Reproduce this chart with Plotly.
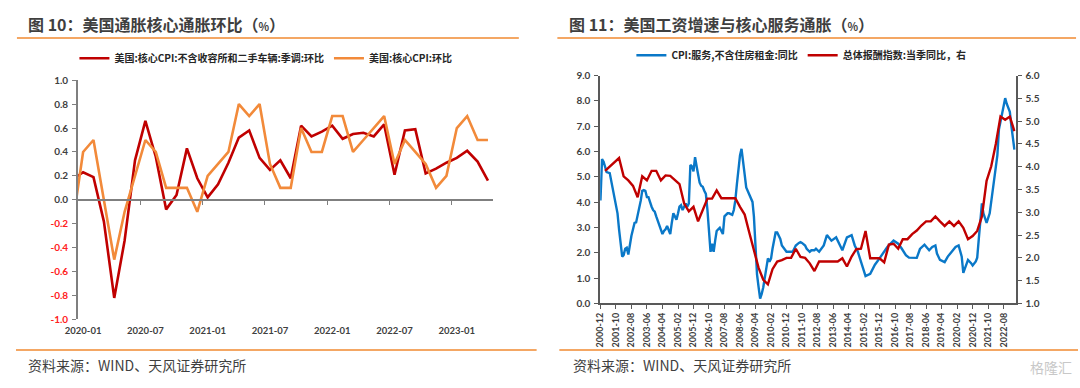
import plotly.graph_objects as go

W, H = 1080, 388

# ---------------- Left chart data (monthly) ----------------
left_months = [
    "2019-12",
    "2020-01", "2020-02", "2020-03", "2020-04", "2020-05", "2020-06",
    "2020-07", "2020-08", "2020-09", "2020-10", "2020-11", "2020-12",
    "2021-01", "2021-02", "2021-03", "2021-04", "2021-05", "2021-06",
    "2021-07", "2021-08", "2021-09", "2021-10", "2021-11", "2021-12",
    "2022-01", "2022-02", "2022-03", "2022-04", "2022-05", "2022-06",
    "2022-07", "2022-08", "2022-09", "2022-10", "2022-11", "2022-12",
    "2023-01", "2023-02", "2023-03", "2023-04",
]
core_ex_shelter_cars = [
    0.17,
    0.23, 0.19, -0.18, -0.82, -0.34, 0.33, 0.66, 0.36, -0.08, 0.04, 0.43, 0.18,
    0.02, 0.13, 0.31, 0.52, 0.58, 0.35, 0.25, 0.33, 0.18, 0.62, 0.53, 0.57,
    0.62, 0.51, 0.55, 0.56, 0.53, 0.63, 0.21, 0.58, 0.59, 0.22, 0.26, 0.31,
    0.35, 0.41, 0.32, 0.16,
]
core_cpi_mom = [
    -0.2,
    0.4, 0.5, 0.0, -0.5, -0.1, 0.2, 0.5, 0.4, 0.1, 0.1, 0.1, -0.1,
    0.2, 0.3, 0.4, 0.8, 0.7, 0.8, 0.3, 0.1, 0.1, 0.6, 0.4, 0.4,
    0.7, 0.7, 0.4, 0.5, 0.6, 0.7, 0.3, 0.5, 0.4, 0.3, 0.1, 0.2,
    0.6, 0.7, 0.5, 0.5,
]
left_xtick_labels = ["2020-01", "2020-07", "2021-01", "2021-07", "2022-01", "2022-07", "2023-01"]
left_yticks = [1.0, 0.8, 0.6, 0.4, 0.2, 0.0, -0.2, -0.4, -0.6, -0.8, -1.0]

# ---------------- Right chart data ----------------
svc_dates = [
    "2000-12", "2001-01", "2001-02", "2001-03", "2001-04", "2001-06", "2001-07", "2001-08",
    "2001-09", "2001-10", "2001-11", "2001-12", "2002-01", "2002-02", "2002-03", "2002-04",
    "2002-05", "2002-06", "2002-08", "2002-09", "2002-10", "2002-11", "2002-12", "2003-01",
    "2003-02", "2003-03", "2003-04", "2003-05", "2003-06", "2003-07", "2003-08", "2003-09",
    "2003-10", "2003-11", "2003-12", "2004-02", "2004-03", "2004-04", "2004-05", "2004-06",
    "2004-07", "2004-08", "2004-09", "2004-10", "2004-11", "2004-12", "2005-01", "2005-02",
    "2005-03", "2005-04", "2005-05", "2005-06", "2005-07", "2005-08", "2005-09", "2005-10",
    "2005-11", "2005-12", "2006-01", "2006-02", "2006-03", "2006-04", "2006-05", "2006-06",
    "2006-07", "2006-08", "2006-09", "2006-10", "2006-11", "2006-12", "2007-01", "2007-02",
    "2007-03", "2007-04", "2007-05", "2007-06", "2007-07", "2007-08", "2007-09", "2007-10",
    "2007-11", "2008-01", "2008-02", "2008-03", "2008-04", "2008-05", "2008-06", "2008-07",
    "2008-08", "2008-09", "2008-10", "2008-11", "2008-12", "2009-02", "2009-03", "2009-04",
    "2009-05", "2009-06", "2009-07", "2009-08", "2009-09", "2009-10", "2009-11", "2009-12",
    "2010-01", "2010-02", "2010-03", "2010-04", "2010-05", "2010-06", "2010-07", "2010-08",
    "2010-09", "2010-10", "2010-11", "2010-12", "2011-02", "2011-04", "2011-05", "2011-06",
    "2011-08", "2011-09", "2011-10", "2011-12", "2012-01", "2012-03", "2012-04", "2012-06",
    "2012-07", "2012-09", "2012-12", "2013-02", "2013-05", "2013-08", "2013-12", "2014-03",
    "2014-06", "2014-08", "2014-10", "2015-03", "2015-06", "2015-09", "2015-12", "2016-02",
    "2016-05", "2016-09", "2016-12", "2017-02", "2017-05", "2017-07", "2017-10", "2017-12",
    "2018-02", "2018-05", "2018-08", "2018-10", "2018-12", "2019-01", "2019-03", "2019-06",
    "2019-08", "2019-11", "2020-01", "2020-03", "2020-05", "2020-06", "2020-08", "2020-09",
    "2020-11", "2020-12", "2021-02", "2021-03", "2021-04", "2021-06", "2021-07", "2021-09",
    "2021-11", "2021-12", "2022-02", "2022-04", "2022-05", "2022-07", "2022-09", "2022-10",
    "2022-12", "2023-01", "2023-03",
]
svc_vals = [
    4.07, 5.70, 5.60, 5.41, 5.19, 5.15, 4.84, 4.58,
    4.33, 3.95, 3.56, 2.93, 2.23, 1.85, 1.91, 2.16,
    2.20, 1.93, 2.67, 2.93, 3.18, 3.20, 3.50, 3.69,
    4.07, 4.45, 4.48, 4.45, 4.20, 4.20, 3.95, 3.82,
    3.69, 3.63, 3.44, 3.06, 2.93, 2.74, 2.86, 2.93,
    3.06, 2.93, 2.74, 3.18, 3.56, 3.44, 3.31, 3.56,
    3.82, 3.88, 3.69, 3.82, 3.95, 3.82, 3.95, 5.47,
    5.41, 5.22, 5.78, 5.41, 5.09, 4.77, 4.65, 4.61,
    4.45, 4.33, 3.69, 2.80, 2.04, 2.36, 2.04, 2.50,
    2.86, 2.93, 2.99, 2.86, 2.74, 3.44, 3.50, 3.56,
    3.56, 3.50, 3.69, 4.07, 4.71, 5.22, 5.85, 6.11,
    5.47, 5.09, 4.58, 4.45, 4.26, 4.01, 3.44, 2.16,
    1.15, 0.64, 0.19, 0.38, 0.64, 1.02, 1.40, 1.78,
    1.65, 1.78, 2.16, 2.55, 2.80, 2.80, 2.67, 2.55,
    2.29, 2.19, 2.10, 2.04, 2.04, 2.04, 2.16, 2.29,
    2.39, 2.42, 2.39, 2.29, 2.16, 2.04, 2.10, 2.10,
    2.16, 2.04, 2.29, 2.70, 2.48, 2.61, 2.10, 2.61,
    2.70, 2.29, 2.04, 1.08, 1.17, 1.53, 1.78, 1.97,
    2.23, 2.48, 2.36, 2.19, 1.91, 1.81, 1.80, 1.80,
    2.15, 2.32, 2.10, 2.23, 2.29, 1.97, 1.72, 1.63,
    1.85, 2.10, 2.23, 2.29, 1.85, 1.21, 1.53, 1.72,
    1.59, 1.50, 1.66, 1.81, 2.55, 3.95, 3.56, 3.18,
    3.56, 4.01, 4.84, 5.86, 6.87, 7.51, 8.11, 7.89,
    7.57, 7.00, 6.08,
]
eci_dates = [
    "2001-03", "2001-12", "2002-03", "2002-06", "2002-09", "2002-12",
    "2003-03", "2003-06", "2003-09", "2003-12", "2004-03", "2004-06", "2004-09", "2004-12",
    "2005-03", "2005-06", "2005-09", "2005-12", "2006-03", "2006-06", "2006-09", "2006-12",
    "2007-03", "2007-06", "2007-09", "2007-12", "2008-03", "2008-06", "2008-09", "2008-12",
    "2009-03", "2009-06", "2009-09", "2009-12", "2010-03", "2010-06", "2010-09", "2010-12",
    "2011-03", "2011-06", "2011-09", "2011-12", "2012-03", "2012-06", "2012-09", "2012-12",
    "2013-03", "2013-06", "2013-09", "2013-12", "2014-03", "2014-06", "2014-09", "2014-12",
    "2015-03", "2015-06", "2015-09", "2015-12", "2016-03", "2016-06", "2016-09", "2016-12",
    "2017-03", "2017-06", "2017-09", "2017-12", "2018-03", "2018-06", "2018-09", "2018-12",
    "2019-03", "2019-06", "2019-09", "2019-12", "2020-03", "2020-06", "2020-09", "2020-12",
    "2021-03", "2021-06", "2021-09", "2021-12", "2022-03", "2022-06", "2022-09", "2022-12",
    "2023-03",
]
eci_vals = [
    3.91, 4.19, 3.79, 3.70, 3.58, 3.33,
    3.79, 3.70, 3.91, 3.91, 3.70, 3.81, 3.80, 3.72,
    3.62, 3.19, 3.02, 3.12, 2.80, 3.05, 3.30, 3.30,
    3.48, 3.31, 3.31, 3.31, 3.31, 3.12, 2.95, 2.55,
    2.15, 1.78, 1.52, 1.42, 1.75, 1.92, 1.95, 2.00,
    2.00, 2.20, 2.02, 2.00, 1.88, 1.71, 1.92, 1.92,
    1.92, 1.92, 1.92, 1.99, 1.81, 2.03, 2.19, 2.20,
    2.59, 1.99, 1.99, 1.99, 1.90, 2.29, 2.31, 2.20,
    2.41, 2.41, 2.52, 2.60, 2.71, 2.80, 2.80, 2.91,
    2.80, 2.70, 2.80, 2.70, 2.80, 2.66, 2.41, 2.48,
    2.59, 2.91, 3.69, 4.01, 4.50, 5.10, 5.03, 5.10,
    4.78,
]
right_xtick_labels = [
    "2000-12", "2001-10", "2002-08", "2003-06", "2004-04", "2005-02", "2005-12",
    "2006-10", "2007-08", "2008-06", "2009-04", "2010-02", "2010-12", "2011-10",
    "2012-08", "2013-06", "2014-04", "2015-02", "2015-12", "2016-10", "2017-08",
    "2018-06", "2019-04", "2020-02", "2020-12", "2021-10", "2022-08",
]

# ---------------- Styles ----------------
RED = "#C00000"
ORANGE = "#F28A3A"
BLUE = "#0A78C8"
AX = "#7F7F7F"
AX2 = "#595959"
TXT = "#404040"
NUMFONT = "Lato"
CJK = "Noto Sans CJK SC"
RULE = "#F08A30"


def px_x(p):
    return p / W


def px_y(p):
    return (H - p) / H


fig = go.Figure()

fig.add_trace(go.Scatter(
    x=left_months, y=core_ex_shelter_cars, mode="lines",
    line=dict(color=RED, width=2.6), name="美国:核心CPI:不含收容所和二手车辆:季调:环比",
    xaxis="x", yaxis="y", legend="legend", hoverinfo="skip"))
fig.add_trace(go.Scatter(
    x=left_months, y=core_cpi_mom, mode="lines",
    line=dict(color=ORANGE, width=2.6), name="美国:核心CPI:环比",
    xaxis="x", yaxis="y", legend="legend", hoverinfo="skip"))
# invisible helper so the zero-line tick axis (x3) gets drawn
fig.add_trace(go.Scatter(
    x=list(range(len(left_months))), y=core_cpi_mom, mode="lines",
    line=dict(color="rgba(0,0,0,0)", width=0), opacity=0, showlegend=False,
    xaxis="x3", yaxis="y", hoverinfo="skip"))

fig.add_trace(go.Scatter(
    x=svc_dates, y=svc_vals, mode="lines",
    line=dict(color=BLUE, width=2.4), name="CPI:服务,不含住房租金:同比",
    xaxis="x2", yaxis="y2", legend="legend2", hoverinfo="skip"))
fig.add_trace(go.Scatter(
    x=eci_dates, y=eci_vals, mode="lines",
    line=dict(color=RED, width=2.4), name="总体报酬指数:当季同比，右",
    xaxis="x2", yaxis="y3", legend="legend2", hoverinfo="skip"))

# left plot geometry
L_x0, L_x1 = 65.7, 486.0
L_ytop, L_ybot = 75.7, 323.3
L_dom_x = [px_x(L_x0), px_x(L_x1)]
L_dom_y = [px_y(L_ybot), px_y(L_ytop)]
# right plot geometry
R_x0, R_x1 = 594.3, 1015.0
R_ytop, R_ybot = 71.0, 306.7
R_dom_x = [px_x(R_x0), px_x(R_x1)]
R_dom_y = [px_y(R_ybot), px_y(R_ytop)]

numfont_b = dict(family=NUMFONT, size=10, color=TXT, weight="bold")

left_yticktext = []
for v in left_yticks:
    s = f"{v:.1f}"
    if v < 0:
        s = f'<span style="color:#FF2020">{s}</span>'
    left_yticktext.append(s)

fig.update_layout(
    width=W, height=H, autosize=False,
    margin=dict(l=0, r=0, t=0, b=0),
    paper_bgcolor="white", plot_bgcolor="white",
    showlegend=True,
    xaxis=dict(
        type="category", categoryorder="array", categoryarray=left_months,
        domain=L_dom_x, anchor="y", range=[0.5, len(left_months) - 0.5],
        tickmode="array", tickvals=left_xtick_labels, ticktext=left_xtick_labels,
        ticks="", showline=False, showgrid=False, zeroline=False,
        tickfont=dict(family=NUMFONT, size=9.5, color=TXT, weight="bold"),
        ticklabelstandoff=4,
    ),
    xaxis3=dict(
        type="linear", overlaying="x", anchor="free",
        position=(L_dom_y[0] + L_dom_y[1]) / 2, domain=L_dom_x,
        range=[0.5, len(left_months) - 0.5], tickmode="linear", tick0=0.5, dtick=6,
        ticks="outside", ticklen=4, tickwidth=1.2, tickcolor=AX,
        showline=True, linecolor=AX, linewidth=1.5,
        showticklabels=False, showgrid=False, zeroline=False,
    ),
    yaxis=dict(
        domain=L_dom_y, anchor="x", range=[-1.0, 1.0],
        tickmode="array", tickvals=left_yticks, ticktext=left_yticktext,
        ticks="outside", ticklen=4, tickwidth=1.2, tickcolor=AX,
        showline=True, linecolor=AX, linewidth=1.5,
        showgrid=False, zeroline=False, tickfont=numfont_b,
        ticklabelstandoff=2,
    ),
    xaxis2=dict(
        type="date", domain=R_dom_x, anchor="y2",
        range=["2000-11-25", "2023-03-28"],
        tickmode="array", tickvals=right_xtick_labels, ticktext=right_xtick_labels,
        tickangle=-90, ticks="outside", ticklen=4, tickwidth=1.2, tickcolor=AX2,
        showline=True, linecolor=AX2, linewidth=1.5, showgrid=False, zeroline=False,
        tickfont=dict(family=NUMFONT, size=9, color=TXT, weight="bold"),
    ),
    yaxis2=dict(
        domain=R_dom_y, anchor="x2", range=[0, 9], tickmode="linear", tick0=0, dtick=1,
        tickformat=".1f", ticks="outside", ticklen=4, tickwidth=1.2, tickcolor=AX2,
        showline=True, linecolor=AX2, linewidth=1.5, showgrid=False, zeroline=False,
        tickfont=numfont_b, ticklabelstandoff=2,
    ),
    yaxis3=dict(
        overlaying="y2", side="right", anchor="x2", range=[1, 6],
        tickmode="linear", tick0=1, dtick=0.5, tickformat=".1f",
        ticks="outside", ticklen=4, tickwidth=1.2, tickcolor=AX2,
        showline=True, linecolor=AX2, linewidth=1.5, showgrid=False, zeroline=False,
        tickfont=numfont_b, ticklabelstandoff=2,
    ),
    legend=dict(
        orientation="h", x=px_x(256), y=px_y(53), xanchor="center", yanchor="middle",
        font=dict(family=CJK, size=10, color="#262626", weight="bold"),
        bgcolor="rgba(0,0,0,0)", itemwidth=30,
    ),
    legend2=dict(
        orientation="h", x=px_x(798), y=px_y(50), xanchor="center", yanchor="middle",
        font=dict(family=CJK, size=10, color="#262626", weight="bold"),
        bgcolor="rgba(0,0,0,0)", itemwidth=30,
    ),
)

title_font = dict(family=CJK, size=16, color="#3F3F3F", weight="bold")
src_font = dict(family=CJK, size=14, color="#3F3F3F")
fig.add_annotation(
    text='图 10：美国通胀核心通胀环比（<span style="font-size:11px">%</span>）',
    x=px_x(13), y=px_y(18), xref="paper", yref="paper", xanchor="left", yanchor="middle",
    showarrow=False, font=title_font)
fig.add_annotation(
    text='图 11：美国工资增速与核心服务通胀（<span style="font-size:11px">%</span>）',
    x=px_x(561), y=px_y(18), xref="paper", yref="paper", xanchor="left", yanchor="middle",
    showarrow=False, font=title_font)
fig.add_annotation(
    text="资料来源：WIND、天风证券研究所",
    x=px_x(13), y=px_y(370), xref="paper", yref="paper", xanchor="left", yanchor="middle",
    showarrow=False, font=src_font)
fig.add_annotation(
    text="资料来源：WIND、天风证券研究所",
    x=px_x(565), y=px_y(370), xref="paper", yref="paper", xanchor="left", yanchor="middle",
    showarrow=False, font=src_font)
fig.add_annotation(
    text="格隆汇",
    x=px_x(1074), y=px_y(372), xref="paper", yref="paper", xanchor="right", yanchor="middle",
    showarrow=False, font=dict(family=CJK, size=14, color="#C8C8C8"))

for (x0, x1, yy) in [(4, 512, 32), (551, 1076, 32), (3, 530, 355), (553, 1078, 355)]:
    fig.add_shape(type="line", xref="paper", yref="paper",
                  x0=px_x(x0), x1=px_x(x1), y0=px_y(yy), y1=px_y(yy),
                  line=dict(color=RULE, width=1.5))

fig.write_html(
    "out.html",
    config={"displayModeBar": False},
    post_script="document.body.style.margin='0px';document.body.style.overflow='hidden';",
)
